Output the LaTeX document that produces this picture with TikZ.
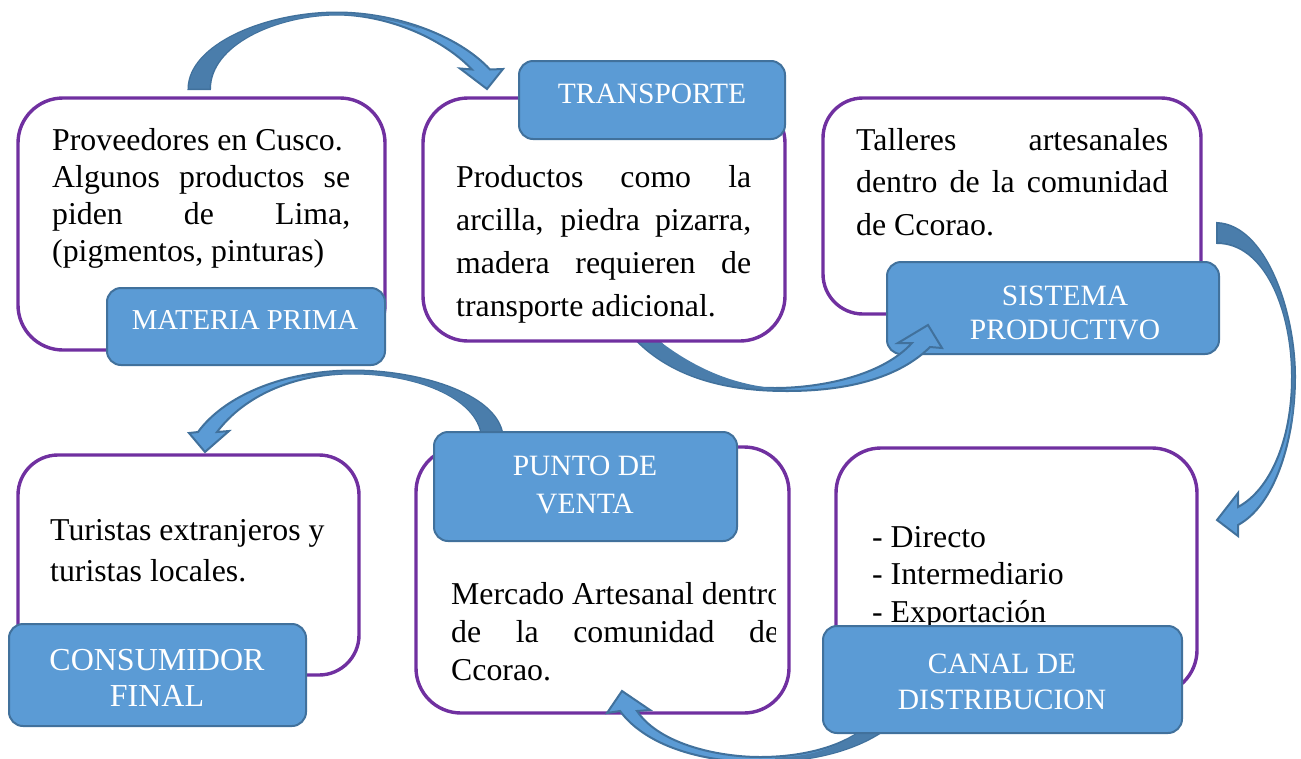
\documentclass[tikz,border=0pt]{standalone}
\usepackage{fontspec}
\setmainfont{Liberation Serif}
\newcommand{\jl}[1]{\makebox[\hsize][s]{#1}}
\definecolor{purp}{HTML}{7030A0}
\definecolor{lblue}{HTML}{5B9BD5}
\definecolor{eblue}{HTML}{41719C}
\definecolor{dblue}{HTML}{4A7DAB}
\tikzset{
  panel/.style={draw=purp,line width=3.4pt,fill=white,inner sep=0,outer sep=0,anchor=north west},
  tabbox/.style={draw=eblue,line width=2pt,fill=lblue,inner sep=0,outer sep=0,anchor=north west,rounded corners=14pt},
  tablabel/.style={text=white,align=flush center,inner sep=0},
  body/.style={text=black,align=flush left,inner sep=0,anchor=north west},
  arrowlight/.style={draw=eblue,line width=2pt,fill=lblue,line join=miter},
  arrowdark/.style={draw=none,fill=dblue},
}
\begin{document}
\begin{tikzpicture}[x=1pt,y=-1pt]
\useasboundingbox (0,0) rectangle (1301,758);

% arrow from materia prima to transporte
\path[arrowlight] (188.5,89) .. controls (188.5,45) and (265,12.5) .. (337,12.5) .. controls (395,12.5) and (458,35) .. (490,69.5) -- (503,69) -- (487,89) -- (460,68.5) -- (472,69.5) .. controls (440,36) and (385,15) .. (337,14.5) .. controls (275,15) and (210,45) .. (210,89) -- cycle;
\path[arrowdark] (189,88.5) .. controls (189,45) and (265,13) .. (337,13) .. controls (370,13) and (405,20) .. (420,29) .. controls (395,20) and (365,15) .. (337,15) .. controls (275,15) and (209.5,45) .. (209.5,88.5) -- cycle;

% panel 1
\node[panel,rounded corners=45pt,minimum width=367pt,minimum height=252pt] (p1) at (18,98) {};
\node[body,text width=298pt,font=\fontsize{31.8}{37}\selectfont] (b1) at (52,128.5) {Proveedores en Cusco.\\\jl{Algunos productos se}\\\jl{piden de Lima,}\\(pigmentos, pinturas)};
\node[tabbox,minimum width=278pt,minimum height=77pt] (t1) at (107,288) {};
\node[tablabel,font=\fontsize{28.8}{36}\selectfont] (l1) at (245,320) {MATERIA PRIMA};

% panel 3 (sistema productivo)
\node[panel,rounded corners=40pt,minimum width=378pt,minimum height=216pt] (p3) at (823,98) {};
\node[body,text width=312pt,font=\fontsize{31.8}{42.5}\selectfont] (b3) at (856,128) {\jl{Talleres artesanales}\\\jl{dentro de la comunidad}\\de Ccorao.};
\node[tabbox,minimum width=332pt,minimum height=92pt] (t3) at (887,262) {};
\node[tablabel,font=\fontsize{29.5}{34}\selectfont] (l3) at (1065,313) {SISTEMA\\PRODUCTIVO};

% arrow from transporte to sistema productivo
\path[arrowlight] (636,340) .. controls (680,385) and (745,391) .. (787,391) .. controls (860,391) and (905,372) .. (930,347) -- (942,348) -- (928,325) -- (898,343) -- (912,343) .. controls (880,378) and (815,388) .. (775,388) .. controls (720,388) and (690,375) .. (658,340) -- cycle;
\path[arrowdark] (637,340) .. controls (680,385) and (745,390) .. (790,390) .. controls (760,387) and (715,384) .. (658,340) -- cycle;

% panel 2 (transporte)
\node[panel,rounded corners=45pt,minimum width=362pt,minimum height=243pt] (p2) at (423,98) {};
\node[body,text width=295pt,font=\fontsize{31.8}{43}\selectfont] (b2) at (456,165) {\jl{Productos como la}\\\jl{arcilla, piedra pizarra,}\\\jl{madera requieren de}\\transporte adicional.};
\node[tabbox,minimum width=266pt,minimum height=78pt] (t2) at (519,61) {};
\node[tablabel,font=\fontsize{29.5}{36}\selectfont] (l2) at (652,94) {TRANSPORTE};

% arrow from sistema productivo to canal
\path[arrowlight] (1217,223) .. controls (1265,225) and (1295,310) .. (1295,377) .. controls (1295,440) and (1275,505) .. (1238,525) -- (1238,536) -- (1217,520) -- (1238,493) -- (1238,507) .. controls (1270,490) and (1292,440) .. (1292,377) .. controls (1292,310) and (1265,243) .. (1217,243) -- cycle;
\path[arrowdark] (1218,224) .. controls (1265,226) and (1294.5,310) .. (1294.5,380) .. controls (1294.5,400) and (1293,420) .. (1291,430) .. controls (1292,410) and (1292,395) .. (1292,377) .. controls (1292,310) and (1265,243) .. (1218,242) -- cycle;

% panel 5 (punto de venta)
\node[panel,rounded corners=45pt,minimum width=373pt,minimum height=266pt] (p5) at (416,447) {};
\begin{scope}
\clip (440,560) rectangle (775,700);
\node[body,text width=328pt,font=\fontsize{31.8}{38}\selectfont] (b5) at (451,582) {\mbox{Mercado Artesanal dentro}\\\jl{de la comunidad de}\\Ccorao.};
\end{scope}

% arrow from canal to punto de venta
\path[arrowlight] (880,733) .. controls (845,755) and (800,762) .. (757,762) .. controls (700,762) and (645,745) .. (620,711) -- (607,713) -- (622,691) -- (650,710) -- (637,711) .. controls (660,745) and (720,757) .. (760,757) .. controls (800,757) and (835,748) .. (858,733) -- cycle;
\path[arrowdark] (879,733) .. controls (845,755) and (800,761) .. (775,761) -- (775,757.5) .. controls (810,757) and (835,748) .. (858,733) -- cycle;

% panel 4 (canal)
\node[panel,rounded corners=45pt,minimum width=361pt,minimum height=247pt] (p4) at (836,448) {};
\node[body,text width=300pt,font=\fontsize{31.8}{37.5}\selectfont] (b4) at (872,526) {- Directo\\- Intermediario\\- Exportación};
\node[tabbox,minimum width=359pt,minimum height=107pt] (t4) at (823,626) {};
\node[tablabel,font=\fontsize{29.5}{36}\selectfont] (l4) at (1002,682) {CANAL DE\\DISTRIBUCION};

% arrow from punto de venta to consumidor
\path[arrowlight] (503,440) .. controls (503,395) and (420,370.5) .. (353,370.5) .. controls (285,370.5) and (225,395) .. (198,432) -- (189,433) -- (205,452) -- (229,431) -- (217,432) .. controls (245,395) and (295,373.5) .. (353,373.5) .. controls (420,373.5) and (482,400) .. (482,440) -- cycle;
\path[arrowdark] (502.5,440) .. controls (502.5,395) and (420,371) .. (353,371) .. controls (330,371) and (310,374) .. (290,379) .. controls (310,375.5) and (330,374) .. (353,374) .. controls (420,374) and (482,400) .. (482.5,440) -- cycle;

\node[tabbox,minimum width=303pt,minimum height=109pt] (t5) at (434,432) {};
\node[tablabel,font=\fontsize{29.5}{38}\selectfont] (l5) at (585,485) {PUNTO DE\\VENTA};

% panel 6 (consumidor)
\node[panel,rounded corners=40pt,minimum width=341pt,minimum height=220pt] (p6) at (18,455) {};
\node[body,text width=285pt,font=\fontsize{31.8}{41}\selectfont] (b6) at (50,519) {Turistas extranjeros y\\turistas locales.};
\node[tabbox,minimum width=297pt,minimum height=102pt] (t6) at (9,624) {};
\node[tablabel,font=\fontsize{32}{36}\selectfont] (l6) at (157,678) {CONSUMIDOR\\FINAL};
\end{tikzpicture}
\end{document}
